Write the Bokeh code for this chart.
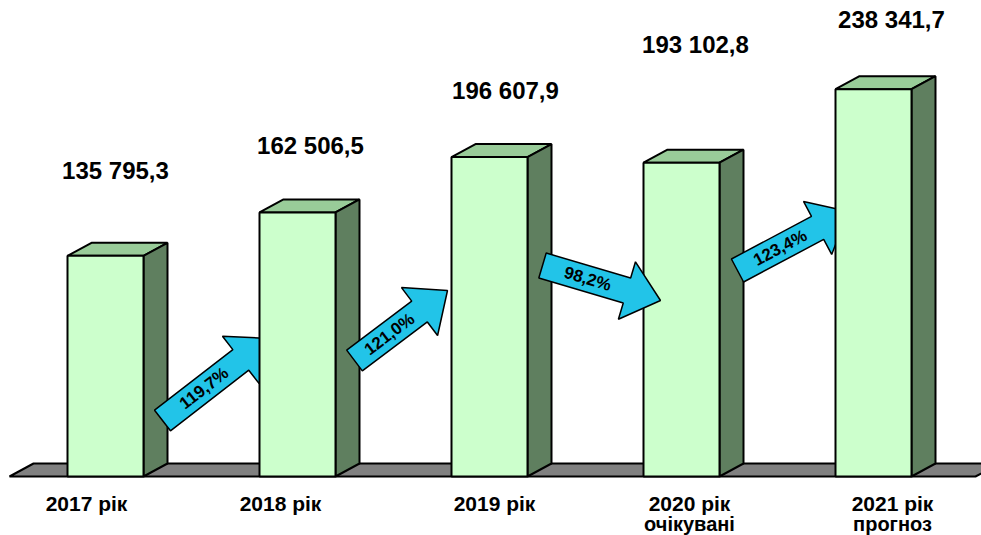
import math
from bokeh.plotting import figure
from bokeh.models import Range1d
from bokeh.core.properties import value
from bokeh.embed import file_html
from bokeh.resources import INLINE

# ---------------- data ----------------
categories = ["2017 рік", "2018 рік", "2019 рік", "2020 рік", "2021 рік"]
subtitles = ["", "", "", "очікувані", "прогноз"]
values = [135795.3, 162506.5, 196607.9, 193102.8, 238341.7]

# ---------------- layout / style ----------------
W, H = 981, 535
BASE_PX = 476          # screen row of the value 0
K = 1.625e-3           # screen px per value unit
DX, DY = 24, 13        # 3-D depth offset in px
FIRST_C, STEP, HALF = 105, 192, 38
label_gap_px = [85, 67, 67, 118, 70]       # value label distance above bar top
label_dx = [10, 13, 16, 14, 18]
cat_dx = [-19, -17, 5, 8, 19]
# arrows (screen px): tail centre, tip
arrow_tail = [(162, 420), (354, 360), (542, 265), (737, 270)]
arrow_tip = [(268, 338), (447, 290), (660, 300), (848, 211)]
arrow_after_bar = [0, 1, 3, 3]
SHAFT_HALF, HEAD_HALF, HEAD_LEN = 13, 30, 35

FRONT, TOP, SIDE, FLOOR, ARROW = "#ccffcc", "#99cc99", "#5f7f5f", "#808080", "#22c4e8"


def uy(px):
    return (BASE_PX - px) / K


def dyv(px):
    return px / K


p = figure(width=W, height=H, x_range=Range1d(0, W), y_range=Range1d(uy(H), uy(0)),
           output_backend="svg", toolbar_location=None, min_border=0,
           x_axis_type=None, y_axis_type=None)
p.grid.visible = False
p.outline_line_color = None
p.background_fill_color = "white"
p.border_fill_color = "white"

# floor
p.patch([9, 975, 975 + DX, 9 + DX], [0, 0, dyv(DY), dyv(DY)],
        fill_color=FLOOR, line_color="black", line_width=2)


def draw_bar(i):
    c = FIRST_C + STEP * i
    l, r = c - HALF, c + HALF
    v = values[i]
    p.patch([l, l + DX, r + DX, r], [v, v + dyv(DY), v + dyv(DY), v],
            fill_color=TOP, line_color="black", line_width=2)
    p.patch([r, r + DX, r + DX, r], [0, dyv(DY), v + dyv(DY), v],
            fill_color=SIDE, line_color="black", line_width=2)
    p.quad(left=[l], right=[r], bottom=[0], top=[v],
           fill_color=FRONT, line_color="black", line_width=2)


def fmt_val(v):
    return f"{v:,.1f}".replace(",", " ").replace(".", ",")


def draw_arrow(j):
    tx, ty = arrow_tail[j]
    hx, hy = arrow_tip[j]
    L = math.hypot(hx - tx, hy - ty)
    ux, uyy = (hx - tx) / L, (hy - ty) / L
    px_, py_ = -uyy, ux
    bx, by = hx - HEAD_LEN * ux, hy - HEAD_LEN * uyy
    pts = [
        (tx + SHAFT_HALF * px_, ty + SHAFT_HALF * py_),
        (bx + SHAFT_HALF * px_, by + SHAFT_HALF * py_),
        (bx + HEAD_HALF * px_, by + HEAD_HALF * py_),
        (hx, hy),
        (bx - HEAD_HALF * px_, by - HEAD_HALF * py_),
        (bx - SHAFT_HALF * px_, by - SHAFT_HALF * py_),
        (tx - SHAFT_HALF * px_, ty - SHAFT_HALF * py_),
    ]
    p.patch([q[0] for q in pts], [uy(q[1]) for q in pts],
            fill_color=ARROW, line_color="black", line_width=1.5)
    pct = values[j + 1] / values[j] * 100
    label = f"{pct:.1f}".replace(".", ",") + "%"
    mx, my = (tx + bx) / 2 + 3 * ux, (ty + by) / 2 + 3 * uyy
    ang = math.atan2(-(hy - ty), hx - tx)
    p.text(x=[mx], y=[uy(my)], text=[label], angle=ang,
           text_font=value("Liberation Sans"), text_font_style="bold",
           text_font_size="17px", text_color="black",
           text_align="center", text_baseline="middle")


for i in range(len(values)):
    draw_bar(i)
    for j, after in enumerate(arrow_after_bar):
        if after == i:
            draw_arrow(j)

# value labels
vx = [FIRST_C + STEP * i + label_dx[i] for i in range(len(values))]
vy = [values[i] + dyv(label_gap_px[i]) for i in range(len(values))]
p.text(x=vx, y=vy, text=[fmt_val(v) for v in values],
       text_font=value("Liberation Sans"), text_font_style="bold",
       text_font_size="24px", text_color="black",
       text_align="center", text_baseline="middle")

# category labels
cx = [FIRST_C + STEP * i + cat_dx[i] for i in range(len(categories))]
p.text(x=cx, y=[uy(503)] * len(categories), text=categories,
       text_font=value("Liberation Sans"), text_font_style="bold",
       text_font_size="21px", text_color="black",
       text_align="center", text_baseline="middle")
p.text(x=cx, y=[uy(523)] * len(categories), text=subtitles,
       text_font=value("Liberation Sans"), text_font_style="bold",
       text_font_size="20px", text_color="black",
       text_align="center", text_baseline="middle")

open("out.html", "w").write(file_html(p, INLINE))
